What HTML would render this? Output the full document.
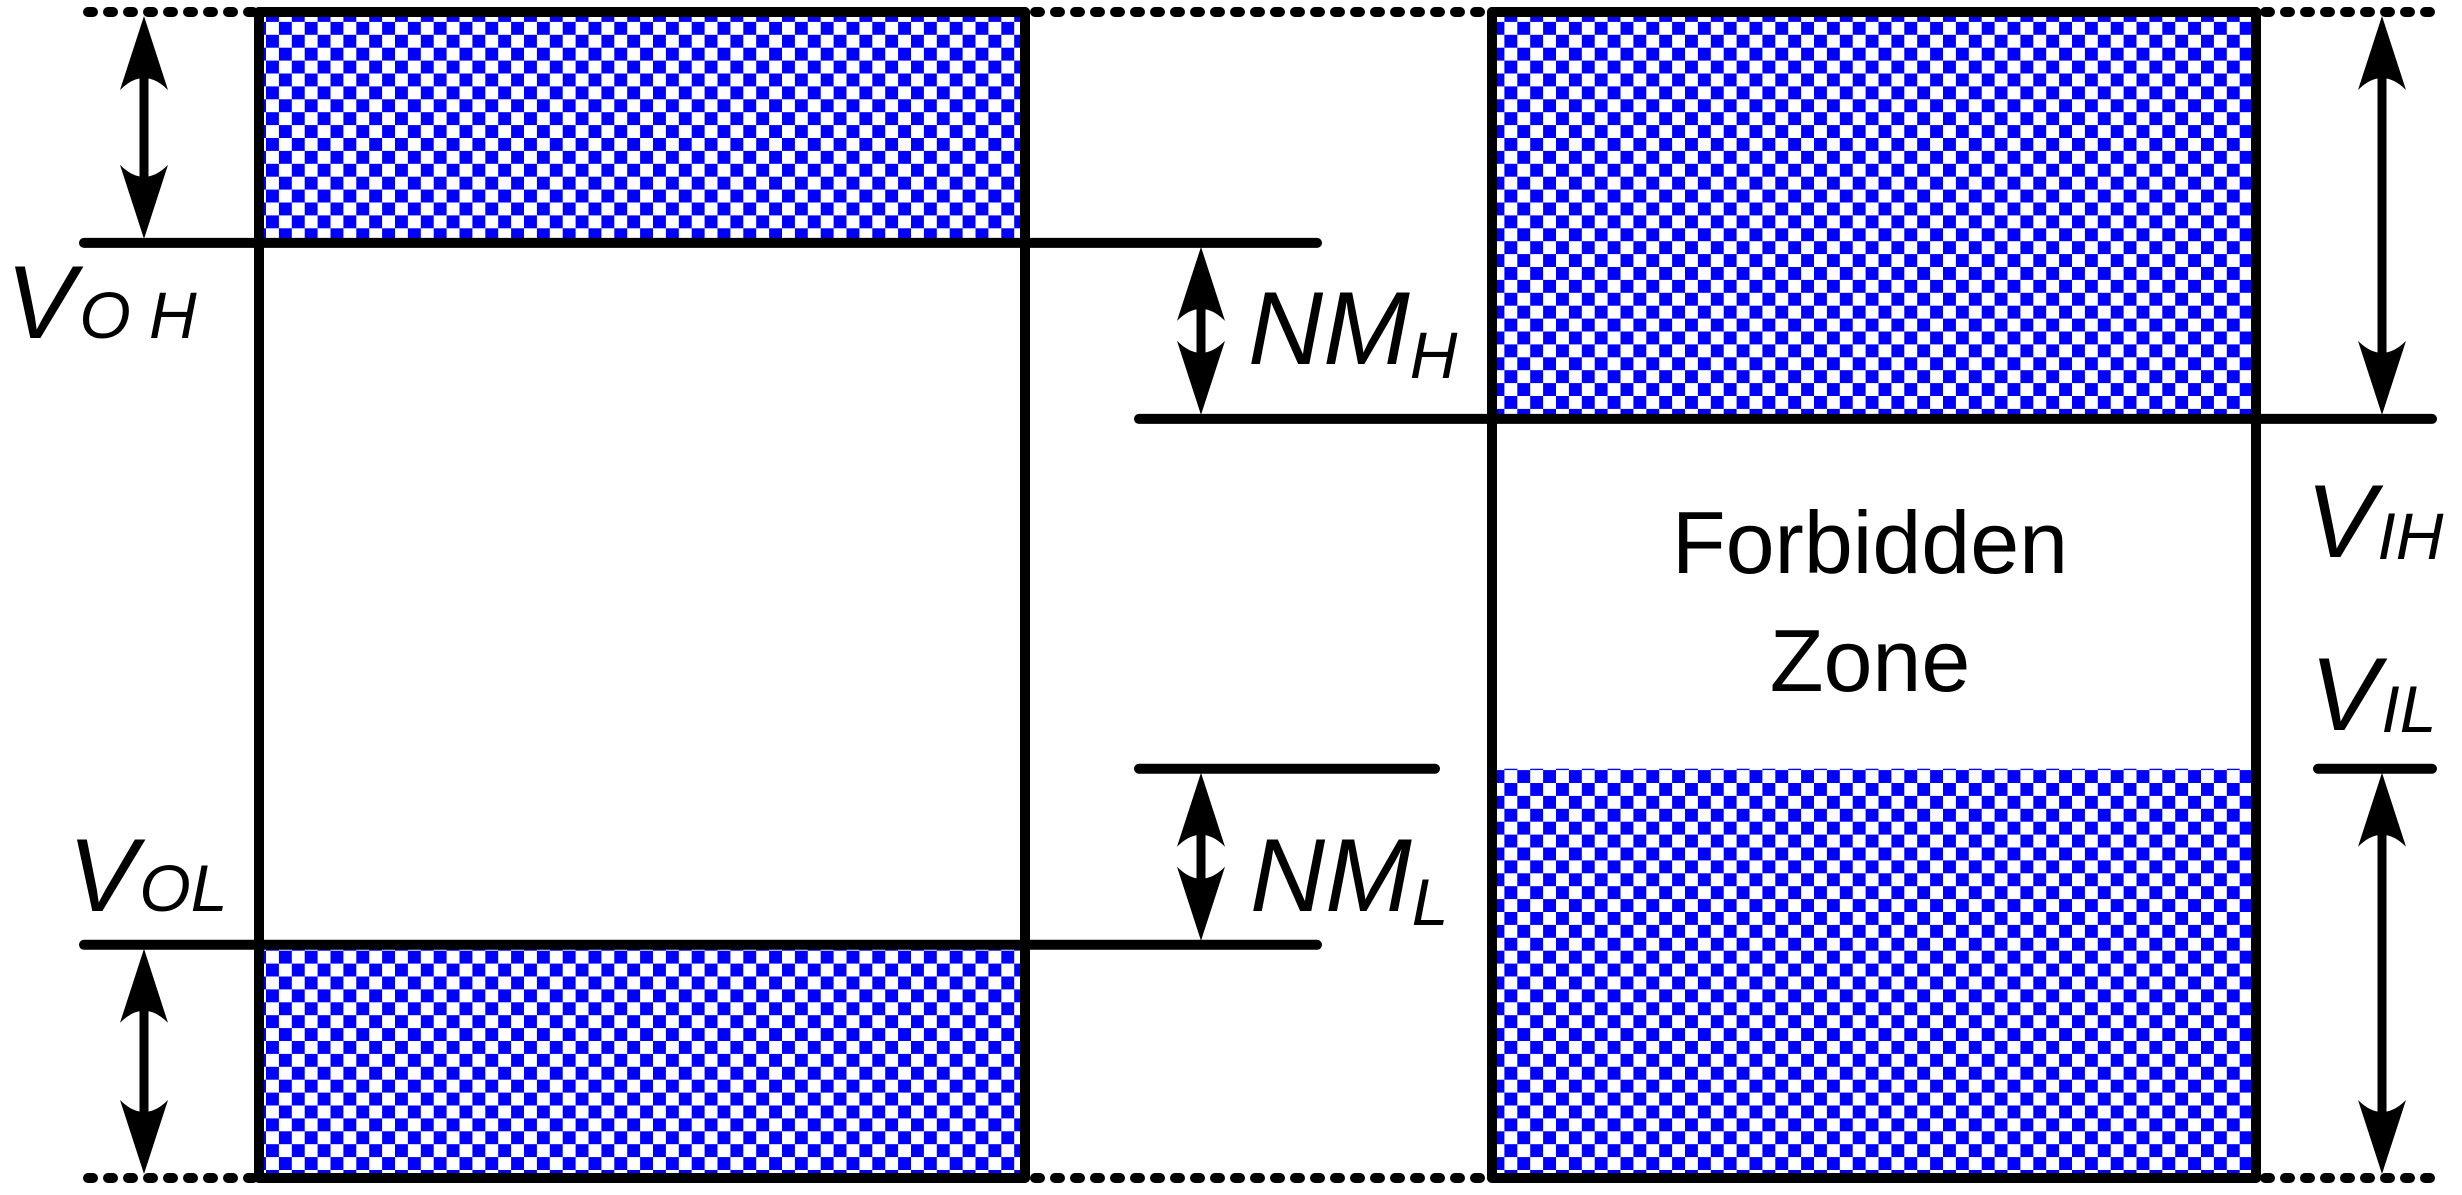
<!DOCTYPE html>
<html><head><meta charset="utf-8"><style>
html,body{margin:0;padding:0;background:#fff}
svg{display:block}
text{font-family:"Liberation Sans","DejaVu Sans",sans-serif;fill:#000}
</style></head><body>
<svg id="fig" width="2462" height="1195" viewBox="0 0 2462 1195" xmlns="http://www.w3.org/2000/svg">
<defs>
<pattern id="chk" x="266" y="9" width="25.8" height="25.8" patternUnits="userSpaceOnUse">
<rect x="0" y="0" width="12.9" height="12.9" fill="#0000ff"/>
<rect x="12.9" y="12.9" width="12.9" height="12.9" fill="#0000ff"/>
</pattern>
</defs>
<g id="layer"></g>
<text x="6" y="338" font-size="104" font-style="italic">V<tspan font-size="66" dx="4">O H</tspan></text>
<text x="68" y="911" font-size="104" font-style="italic">V<tspan font-size="66" dx="2">OL</tspan></text>
<text x="1248" y="364" font-size="104" font-style="italic">NM<tspan font-size="66" dy="14">H</tspan></text>
<text x="1250" y="911" font-size="104" font-style="italic">NM<tspan font-size="66" dy="14">L</tspan></text>
<text x="2306" y="557" font-size="104" font-style="italic">V<tspan font-size="66" dx="2" dy="2">IH</tspan></text>
<text x="2310" y="730" font-size="104" font-style="italic">V<tspan font-size="66" dx="2" dy="2">IL</tspan></text>
<text x="1870" y="573" font-size="88" text-anchor="middle">Forbidden</text>
<text x="1870" y="691" font-size="88" text-anchor="middle">Zone</text>
</svg>
<script>
// voltage levels (diagram units: 0=bottom, 100=top)
const levelNames = ['VDD','VOH','VIH','VIL','VOL','GND'];
const levelValues = [100, 80.2, 65.1, 35.1, 20.0, 0];
const yTop = 12, yBot = 1178;
function Y(v){ return yBot - (v/100)*(yBot-yTop); }
const L = {}; levelNames.forEach((n,i)=>L[n]=levelValues[i]);
const NS='http://www.w3.org/2000/svg';
const g=document.getElementById('layer');
function mk(tag,attrs,name){const e=document.createElementNS(NS,tag);for(const k in attrs)e.setAttribute(k,attrs[k]);


g.appendChild(e);return e;}
mk('rect',{x:259,y:Y(L.VDD),width:766,height:Y(L.VOH)-Y(L.VDD),fill:'url(#chk)'},'output-high-region');
mk('rect',{x:259,y:Y(L.VOL),width:766,height:Y(L.GND)-Y(L.VOL),fill:'url(#chk)'},'output-low-region');
mk('rect',{x:1492,y:Y(L.VDD),width:764,height:Y(L.VIH)-Y(L.VDD),fill:'url(#chk)'},'input-high-region');
mk('rect',{x:1492,y:Y(L.VIL),width:764,height:Y(L.GND)-Y(L.VIL),fill:'url(#chk)'},'input-low-region');
const dot={stroke:'#000','stroke-width':10,'stroke-dasharray':'5 15','stroke-linecap':'round'};
[[88,255],[1035,1488],[2265,2430]].forEach(([a,b])=>{
 mk('line',Object.assign({x1:a,x2:b,y1:Y(L.VDD),y2:Y(L.VDD)},dot),'vdd-dotted-line');
 mk('line',Object.assign({x1:a,x2:b,y1:Y(L.GND),y2:Y(L.GND)},dot),'gnd-dotted-line');
});
const ln={stroke:'#000','stroke-width':10,'stroke-linecap':'round'};
function line(x1,y1,x2,y2,n){mk('line',Object.assign({x1,y1,x2,y2},ln),n);}
line(259,Y(L.VDD),1025,Y(L.VDD),'output-box-top');line(259,Y(L.GND),1025,Y(L.GND),'output-box-bottom');
line(259,Y(L.VDD),259,Y(L.GND),'output-box-left');line(1025,Y(L.VDD),1025,Y(L.GND),'output-box-right');
line(1492,Y(L.VDD),2256,Y(L.VDD),'input-box-top');line(1492,Y(L.GND),2256,Y(L.GND),'input-box-bottom');
line(1492,Y(L.VDD),1492,Y(L.GND),'input-box-left');line(2256,Y(L.VDD),2256,Y(L.GND),'input-box-right');
line(84,Y(L.VOH),1317,Y(L.VOH),'voh-line');
line(84,Y(L.VOL),1317,Y(L.VOL),'vol-line');
line(1139,Y(L.VIH),2432,Y(L.VIH),'vih-line');
line(1139,Y(L.VIL),1435,Y(L.VIL),'vil-line-left');
line(2318,Y(L.VIL),2432,Y(L.VIL),'vil-line-right');
function arrow(x,a,b,n){
 const y1=Y(a)+4,y2=Y(b)-4;
 mk('line',{x1:x,y1:y1+20,x2:x,y2:y2-20,stroke:'#000','stroke-width':9},n+'-shaft');
 const h=74,w=24;
 mk('path',{d:`M${x} ${y1} L${x+w} ${y1+h} Q${x} ${y1+h-24} ${x-w} ${y1+h} Z`,fill:'#000'},n+'-head-top');
 mk('path',{d:`M${x} ${y2} L${x+w} ${y2-h} Q${x} ${y2-h+24} ${x-w} ${y2-h} Z`,fill:'#000'},n+'-head-bottom');
}
arrow(144,L.VDD,L.VOH,'voh-arrow');
arrow(144,L.VOL,L.GND,'vol-arrow');
arrow(1201,L.VOH,L.VIH,'nmh-arrow');
arrow(1201,L.VIL,L.VOL,'nml-arrow');
arrow(2382,L.VDD,L.VIH,'vih-arrow');
arrow(2382,L.VIL,L.GND,'vil-arrow');
</script>
</body></html>
